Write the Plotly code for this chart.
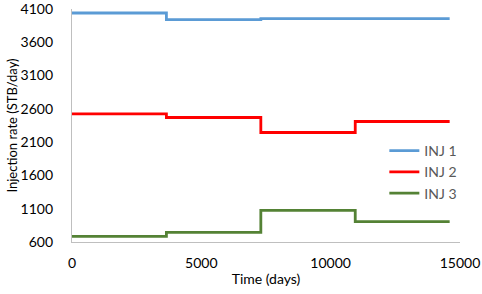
import plotly.graph_objects as go

time_days = [0, 3650, 7300, 10950, 14600]
inj1 = [4040, 3940, 3955, 3955]
inj2 = [2525, 2470, 2245, 2410]
inj3 = [685, 745, 1075, 905]
series_names = ["INJ 1", "INJ 2", "INJ 3"]
series_colors = ["#5b9bd5", "#ff0000", "#548235"]
y_ticks = [600, 1100, 1600, 2100, 2600, 3100, 3600, 4100]
x_ticks = [0, 5000, 10000, 15000]

FONT = "Lato, 'Open Sans', sans-serif"

fig = go.Figure()
for name, vals, col in zip(series_names, [inj1, inj2, inj3], series_colors):
    fig.add_trace(go.Scatter(
        x=time_days, y=vals + [vals[-1]], mode="lines", name=name,
        line=dict(color=col, width=2.8, shape="hv"),
    ))

fig.update_layout(
    width=482, height=294,
    margin=dict(l=72, r=22, t=9, b=52, autoexpand=False),
    paper_bgcolor="white", plot_bgcolor="white",
    font=dict(family=FONT, size=14, color="#000000"),
    showlegend=True,
    legend=dict(x=0.805, y=0.30, xanchor="left", yanchor="middle",
                bgcolor="rgba(0,0,0,0)", font=dict(size=14, color="#595959"),
                itemwidth=30, tracegroupgap=0),
    xaxis=dict(range=[0, 15000], tickvals=x_ticks, showgrid=False, tickformat="d",
               zeroline=False, showline=True, linecolor="#bfbfbf", linewidth=1.2,
               ticks="", automargin=False, ticklabelstandoff=8, ticklabeloverflow="allow",
               title=dict(text="Time (days)", font=dict(size=14), standoff=4),
               tickfont=dict(size=14)),
    yaxis=dict(range=[600, 4100], tickvals=y_ticks, showgrid=False,
               zeroline=False, showline=True, linecolor="#bfbfbf", linewidth=1.2,
               ticks="", automargin=False, ticklabelstandoff=15, ticklabeloverflow="allow",
               title=dict(text="Injection rate (STB/day)", font=dict(size=13), standoff=0),
               tickfont=dict(size=14)),
)

fig.write_html("out.html", config={"displayModeBar": False},
               post_script="document.body.style.margin='0';document.body.style.padding='0';")
